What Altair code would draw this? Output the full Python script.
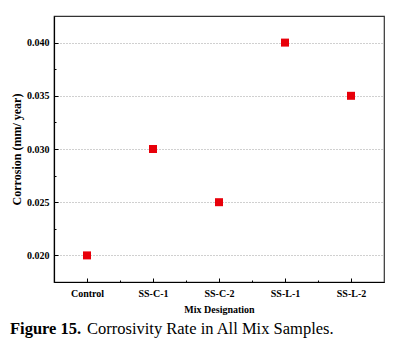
import altair as alt
import pandas as pd

# Mix designations and measured corrosion rates (mm/year)
mixes = ["Control", "SS-C-1", "SS-C-2", "SS-L-1", "SS-L-2"]
corrosion = [0.020, 0.030, 0.025, 0.040, 0.035]

y_major = [0.020, 0.025, 0.030, 0.035, 0.040]
y_minor = [0.0225, 0.0275, 0.0325, 0.0375]
x_major = [0, 1, 2, 3, 4]
x_minor = [0.5, 1.5, 2.5, 3.5]

W, H = 330, 266
FONT = "Liberation Serif"

df = pd.DataFrame({"idx": list(range(len(mixes))), "mix": mixes, "rate": corrosion})

label_expr = "[" + ",".join(f"'{m}'" for m in mixes) + "][round(datum.value)]"

x_scale = alt.Scale(domain=[-0.5, 4.5], nice=False, zero=False)
y_scale = alt.Scale(domain=[0.0175, 0.0425], nice=False, zero=False)

base = alt.Chart(df)

points = base.mark_square(size=64, color="#e8000a", opacity=1).encode(
    x=alt.X("idx:Q", scale=x_scale, axis=alt.Axis(
        orient="bottom", values=x_major, labelExpr=label_expr, ticks=False,
        grid=False, domainColor="#000", domainWidth=1.2,
        labelFont=FONT, labelFontWeight="bold", labelFontSize=10, labelColor="#000",
        labelPadding=6, title="Mix Designation", titleFont=FONT, titleFontWeight="bold",
        titleFontSize=10, titleColor="#000", titlePadding=6)),
    y=alt.Y("rate:Q", scale=y_scale, axis=alt.Axis(
        orient="left", values=y_major, format=".3f", ticks=False,
        grid=True, gridColor="#a0a0a0", gridDash=[1, 2], gridWidth=1,
        domainColor="#000", domainWidth=1.2,
        labelFont=FONT, labelFontWeight="bold", labelFontSize=10, labelColor="#000",
        labelPadding=5, title="Corrosion (mm/ year)", titleFont=FONT,
        titleFontWeight="bold", titleFontSize=12, titleColor="#000", titlePadding=3)),
    tooltip=["mix:N", "rate:Q"],
)


def inward_ticks(xv, yv, size):
    return base.mark_point(opacity=0).encode(
        x=alt.X("idx:Q", scale=x_scale, axis=alt.Axis(
            orient="top", offset=-H, values=xv, labels=False, domain=False,
            grid=False, tickSize=size, tickColor="#000", tickWidth=1, title=None)),
        y=alt.Y("rate:Q", scale=y_scale, axis=alt.Axis(
            orient="right", offset=-W, values=yv, labels=False, domain=False,
            grid=False, tickSize=size, tickColor="#000", tickWidth=1, title=None)),
    )


major_ticks = inward_ticks(x_major, y_major, 4)
minor_ticks = inward_ticks(x_minor, y_minor, 2)

cap = pd.DataFrame({"a": ["Figure 15."], "b": ["Corrosivity Rate in All Mix Samples."]})
cap_bold = alt.Chart(cap).mark_text(
    font=FONT, fontSize=16.5, fontWeight="bold", align="left", baseline="alphabetic", color="#000"
).encode(x=alt.value(-44), y=alt.value(318), text="a:N")
cap_rest = alt.Chart(cap).mark_text(
    font=FONT, fontSize=16.5, align="left", baseline="alphabetic", color="#000"
).encode(x=alt.value(33), y=alt.value(318), text="b:N")

chart = alt.layer(points, major_ticks, minor_ticks, cap_bold, cap_rest).resolve_axis(
    x="independent", y="independent"
).properties(
    width=W, height=H,
    autosize=alt.AutoSizeParams(type="none"),
    padding={"left": 54, "top": 16, "right": 14, "bottom": 66},
    background="white",
).configure_view(stroke="#333", strokeWidth=1.2)

chart.save("out.html", embed_options={"renderer": "svg", "actions": False})
